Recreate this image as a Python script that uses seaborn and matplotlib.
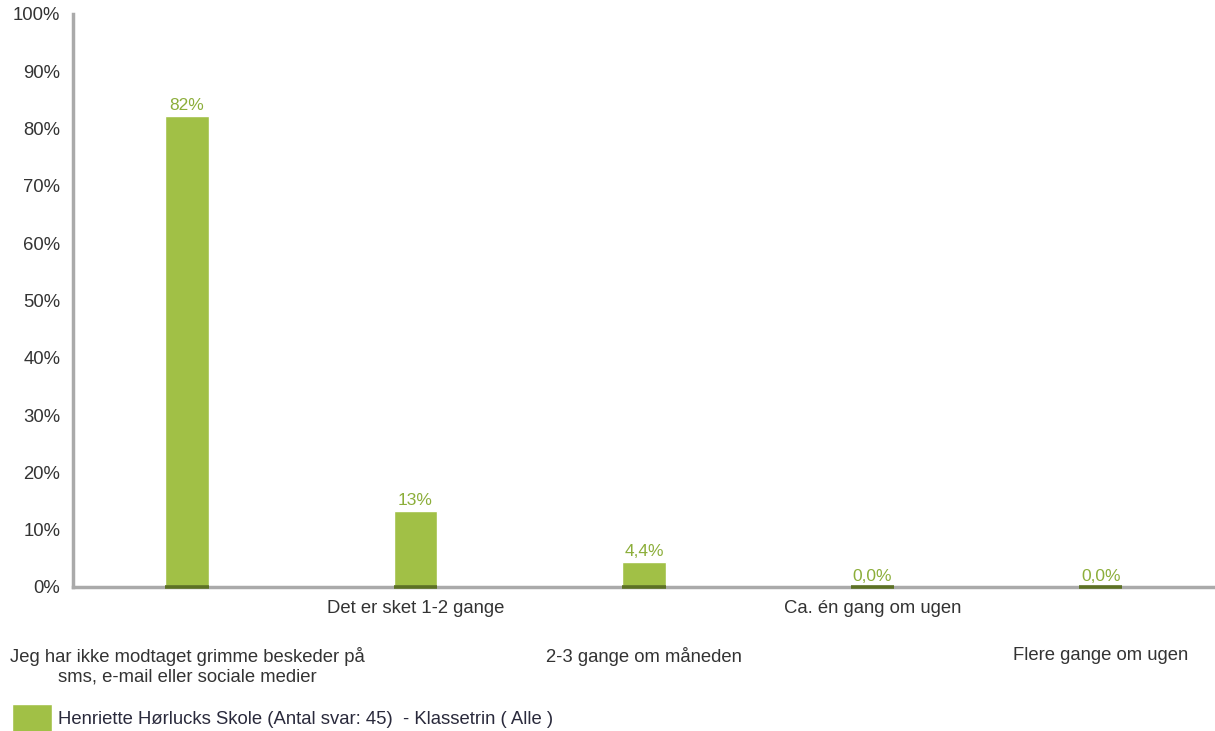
import matplotlib
matplotlib.use('Agg')
import matplotlib.pyplot as plt
import seaborn as sns
import pandas as pd

categories = [
    'Jeg har ikke modtaget grimme beskeder på\nsms, e-mail eller sociale medier',
    'Det er sket 1-2 gange',
    '2-3 gange om måneden',
    'Ca. én gang om ugen',
    'Flere gange om ugen',
]
values = [82.2, 13.3, 4.4, 0.0, 0.0]
value_labels = ['82%', '13%', '4,4%', '0,0%', '0,0%']
series_name = 'Henriette Hørlucks Skole (Antal svar: 45)  - Klassetrin ( Alle )'
yticks = [0, 10, 20, 30, 40, 50, 60, 70, 80, 90, 100]

sns.set_style('white')
plt.rcParams['font.family'] = ['Liberation Sans', 'DejaVu Sans']

df = pd.DataFrame({'cat': categories, 'val': values})

fig = plt.figure(figsize=(12.15, 7.31), dpi=100)
ax = fig.add_axes([0.060, 0.197, 0.940, 0.784])

green = '#a1c046'
sns.barplot(data=df, x='cat', y='val', color=green, width=0.19, saturation=1, ax=ax, label=series_name)
handles, labels = ax.get_legend_handles_labels()
if ax.get_legend() is not None:
    ax.get_legend().remove()

ax.set_ylim(0, 100)
ax.set_xlim(-0.5, len(categories) - 0.5)
ax.set_yticks(yticks)
ax.set_yticklabels([f'{t}%' for t in yticks], fontsize=13.3, color='#333333')
ax.tick_params(axis='y', length=0, pad=9)
ax.tick_params(axis='x', length=0)
ax.set_xticks(range(len(categories)))
ax.set_xticklabels([''] * len(categories))
ax.set_xlabel('')
ax.set_ylabel('')

for s in ['top', 'right']:
    ax.spines[s].set_visible(False)
for s in ['left', 'bottom']:
    ax.spines[s].set_color('#aaaaaa')
    ax.spines[s].set_linewidth(2.5)
ax.spines['bottom'].set_zorder(3)

# darker base where bars meet the axis line
for p in ax.patches:
    ax.plot([p.get_x(), p.get_x() + p.get_width()], [0, 0], color='#5c7124',
            lw=2.6, solid_capstyle='butt', zorder=4, clip_on=False)

for i, (v, lab) in enumerate(zip(values, value_labels)):
    ax.annotate(lab, xy=(i, v), xytext=(0, 3), textcoords='offset pixels',
                ha='center', va='bottom', fontsize=12.5, color='#8cae3a')

# category labels in two staggered rows
for i, c in enumerate(categories):
    off = 13 if i % 2 == 1 else 60
    ax.annotate(c, xy=(i, 0), xycoords=('data', 'axes fraction'),
                xytext=(0, -off), textcoords='offset pixels',
                ha='center', va='top', fontsize=13.3, color='#333333',
                multialignment='center', annotation_clip=False)

fig.legend(handles, labels, loc='lower left', bbox_to_anchor=(0.0035, -0.012), frameon=False,
           fontsize=13.3, handlelength=2.2, handleheight=2.0, handletextpad=0.3,
           borderaxespad=0.0, labelcolor='#2a2a3c')

fig.savefig('out.png', dpi=100)
